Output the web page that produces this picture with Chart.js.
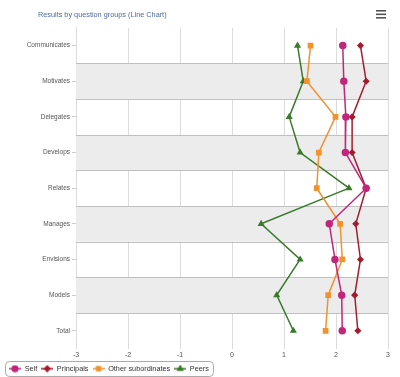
<!DOCTYPE html>
<html>
<head>
<meta charset="utf-8">
<script src="https://cdn.jsdelivr.net/npm/chart.js@4.4.1/dist/chart.umd.min.js"></script>
<style>
  html, body { margin: 0; padding: 0; background: #fff; }
  #wrap { width: 400px; height: 377px; position: relative; }
</style>
</head>
<body>
<div id="wrap"><canvas id="graphic"></canvas></div>
<script>
const groups = ['Communicates', 'Motivates', 'Delegates', 'Develops', 'Relates', 'Manages', 'Envisions', 'Models', 'Total']
const self = [2.13, 2.15, 2.19, 2.18, 2.58, 1.87, 1.98, 2.11, 2.12]
const principals = [2.47, 2.58, 2.31, 2.31, 2.58, 2.38, 2.47, 2.36, 2.42]
const otherSubs = [1.51, 1.44, 1.99, 1.67, 1.63, 2.08, 2.12, 1.85, 1.80]
const peers = [1.26, 1.37, 1.10, 1.31, 2.25, 0.56, 1.31, 0.86, 1.18]
const xTicks = [-3, -2, -1, 0, 1, 2, 3]

const FONT = 'Arial, "Liberation Sans", sans-serif'

// little line + marker image for the legend (highcharts look)
const legendIcon = (color, style) => {
  const c = document.createElement('canvas')
  c.width = 12
  c.height = 8
  const g = c.getContext('2d')
  g.strokeStyle = color
  g.fillStyle = color
  g.lineWidth = 1.5
  g.beginPath()
  g.moveTo(0, 4)
  g.lineTo(12, 4)
  g.stroke()
  Chart.helpers.drawPoint(g, { pointStyle: style, radius: 2.8, rotation: 0, borderWidth: 1 }, 6, 4)
  return c
}

// alternating grey bands + hamburger icon + legend box
const bands = {
  id: 'bands',
  beforeLayout(chart) {
    const lg = chart.legend
    if (lg && !lg._patched) {
      const fit = lg.fit
      lg.fit = function () { fit.call(this); this.height = 16 }
      lg._patched = true
    }
  },
  afterLayout(chart) {
    if (chart.titleBlock) chart.titleBlock.left = 38
    const lg = chart.legend
    if (lg) {
      lg.left += 5
      lg.right += 5
      if (lg.legendHitBoxes) lg.legendHitBoxes.forEach(b => { b.left += 5 })
    }
  },
  beforeDatasetsDraw(chart) {
    const ctx = chart.ctx
    const y = chart.scales.y
    const area = chart.chartArea
    const half = (y.getPixelForValue(1) - y.getPixelForValue(0)) / 2
    ctx.save()
    groups.forEach((g, i) => {
      const c = y.getPixelForValue(i)
      if (i % 2 === 1) {
        ctx.fillStyle = '#ececec'
        ctx.fillRect(area.left, c - half, area.right - area.left, half * 2)
      }
    })
    ctx.strokeStyle = '#c0c0c0'
    ctx.lineWidth = 1
    for (let i = 0; i < groups.length - 1; i++) {
      const p = Math.round(y.getPixelForValue(i) + half) + 0.5
      ctx.beginPath()
      ctx.moveTo(area.left, p)
      ctx.lineTo(area.right, p)
      ctx.stroke()
    }
    ctx.restore()
  },
  afterDraw(chart) {
    const ctx = chart.ctx
    ctx.save()
    ctx.fillStyle = '#555'
    for (let i = 0; i < 3; i++) {
      ctx.fillRect(376, 10 + i * 3.5, 10, 1.6)
    }
    const boxes = chart.legend.legendHitBoxes
    if (boxes && boxes.length) {
      const x0 = boxes[0].left - 4
      const x1 = boxes[boxes.length - 1].left + boxes[boxes.length - 1].width + 4
      const cy = boxes[0].top + boxes[0].height / 2
      ctx.strokeStyle = '#aaa'
      ctx.lineWidth = 1
      ctx.beginPath()
      ctx.roundRect(Math.round(x0) + 0.5, Math.round(cy - 7.5) + 0.5, Math.round(x1 - x0), 15, 4)
      ctx.stroke()
    }
    ctx.restore()
  }
}

const mkSet = (label, data, color, style, r) => ({
  label: label,
  data: data,
  borderColor: color,
  backgroundColor: color,
  borderWidth: 1.5,
  pointStyle: style,
  pointRadius: r,
  pointHoverRadius: r,
  legendIcon: legendIcon(color, style),
  tension: 0
})

const ctx = document.getElementById('graphic').getContext('2d')
const chart = new Chart(ctx, {
  type: 'line',
  data: {
    labels: groups,
    datasets: [
      mkSet('Self', self, '#c2257a', 'circle', 3),
      mkSet('Principals', principals, '#a31d2e', 'rectRot', 2.5),
      mkSet('Other subordinates', otherSubs, '#f0932e', 'rect', 3),
      mkSet('Peers', peers, '#3a7a2a', 'triangle', 2.6)
    ]
  },
  plugins: [bands],
  options: {
    indexAxis: 'y',
    responsive: true,
    maintainAspectRatio: false,
    animation: false,
    layout: { padding: { top: 0, right: 12, bottom: 0, left: 0 } },
    plugins: {
      title: {
        display: true,
        text: 'Results by question groups (Line Chart)',
        align: 'start',
        color: '#4e6a98',
        font: { family: FONT, size: 7.3, weight: 'normal' },
        padding: { top: 11, bottom: 8 }
      },
      legend: {
        position: 'bottom',
        align: 'start',
        labels: {
          usePointStyle: true,
          pointStyleWidth: 12,
          boxHeight: 8,
          padding: 4,
          color: '#333',
          font: { family: FONT, size: 7.3 },
          generateLabels: (ch) => ch.data.datasets.map((d, i) => ({
            text: d.label,
            pointStyle: d.legendIcon,
            fillStyle: d.borderColor,
            strokeStyle: d.borderColor,
            fontColor: '#333',
            lineWidth: 0,
            hidden: false,
            datasetIndex: i
          }))
        }
      },
      tooltip: { enabled: false }
    },
    scales: {
      x: {
        type: 'linear',
        min: -3,
        max: 3,
        afterBuildTicks: (s) => { s.ticks = xTicks.map(v => ({ value: v })) },
        grid: { color: '#dcdcdc', drawTicks: false },
        border: { display: false },
        ticks: {
          color: '#555',
          font: { family: FONT, size: 7 },
          padding: 2
        }
      },
      y: {
        type: 'category',
        offset: true,
        afterFit: (s) => { s.width = 76 },
        grid: { display: true, drawOnChartArea: false, offset: false, tickLength: 4, color: '#ccc' },
        border: { display: true, color: '#dcdcdc' },
        ticks: {
          color: '#555',
          font: { family: FONT, size: 6.5 },
          padding: 2
        }
      }
    }
  }
})
</script>
</body>
</html>
